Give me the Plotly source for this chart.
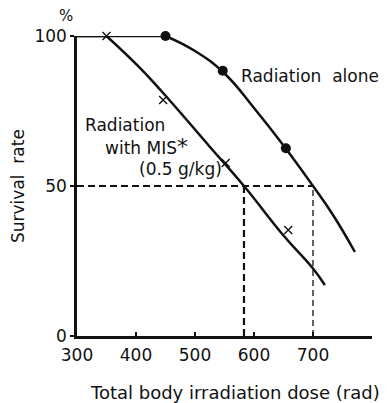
import plotly.graph_objects as go

# ---- data ----
# Radiation alone: measured points
alone_x = [450, 547, 654]
alone_y = [100, 88.4, 62.6]
# Radiation alone: drawn curve
alone_curve_x = [450, 500, 550, 600, 650, 700, 735, 771]
alone_curve_y = [100, 95, 87.5, 76, 63.5, 50, 40, 28]
alone_flat_x = [300, 450]
alone_flat_y = [100, 100]

# Radiation with MIS: measured points
mis_x = [350, 446, 552, 658]
mis_y = [100, 78.7, 57.7, 35.3]
# Radiation with MIS: drawn curve
mis_curve_x = [350, 405, 446, 525, 583, 650, 700, 720]
mis_curve_y = [100, 89.7, 81, 63.1, 50, 33.5, 22.5, 17]
mis_flat_x = [300, 350]
mis_flat_y = [100, 100]

# 50 % survival doses
ld50_x = [583, 700]
ld50_level = 50

x_ticks = [300, 400, 500, 600, 700]
y_ticks = [0, 50, 100]

FONT = "DejaVu Sans"
BLACK = "#111111"

fig = go.Figure()

# dashed guide lines
fig.add_trace(go.Scatter(x=[300, max(ld50_x)], y=[ld50_level, ld50_level], mode="lines",
                         line=dict(color=BLACK, width=1.8, dash="7px,4px"),
                         hoverinfo="skip", showlegend=False))
fig.add_trace(go.Scatter(x=[ld50_x[0], ld50_x[0]], y=[0, ld50_level], mode="lines",
                         line=dict(color=BLACK, width=2.2, dash="7px,4px"),
                         hoverinfo="skip", showlegend=False))
fig.add_trace(go.Scatter(x=[ld50_x[1], ld50_x[1]], y=[0, ld50_level], mode="lines",
                         line=dict(color=BLACK, width=1.3, dash="6px,4px"),
                         hoverinfo="skip", showlegend=False))

# curves
for cx, cy, shape in [(alone_flat_x, alone_flat_y, "linear"),
                      (alone_curve_x, alone_curve_y, "spline"),
                      (mis_flat_x, mis_flat_y, "linear"),
                      (mis_curve_x, mis_curve_y, "spline")]:
    fig.add_trace(go.Scatter(x=cx, y=cy, mode="lines",
                             line=dict(color=BLACK, width=2.5, shape=shape, smoothing=1.3),
                             cliponaxis=False, showlegend=False))

# markers
fig.add_trace(go.Scatter(x=alone_x, y=alone_y, mode="markers",
                         marker=dict(symbol="circle", size=10, color=BLACK),
                         cliponaxis=False, name="Radiation alone", showlegend=False))
fig.add_trace(go.Scatter(x=mis_x, y=mis_y, mode="markers",
                         marker=dict(symbol="x-thin", size=8, color=BLACK,
                                     line=dict(color=BLACK, width=1.4)),
                         cliponaxis=False, name="Radiation with MIS", showlegend=False))

tf = dict(family=FONT, size=17, color=BLACK)
annotations = [
    dict(x=575, y=86.7, xref="x", yref="y", text="Radiation  alone", showarrow=False,
         xanchor="left", yanchor="middle", font=tf),
    dict(x=381, y=70.3, xref="x", yref="y", text="Radiation", showarrow=False,
         xanchor="center", yanchor="middle", font=tf),
    dict(x=417, y=63.3, xref="x", yref="y", text="with MIS<span style='font-size:22px'>*</span>",
         showarrow=False, xanchor="center", yanchor="middle", font=tf),
    dict(x=475, y=55.7, xref="x", yref="y", text="(0.5 g/kg)", showarrow=False,
         xanchor="center", yanchor="middle", font=tf),
    dict(x=-0.037, y=1.067, xref="paper", yref="paper", text="%", showarrow=False,
         xanchor="center", yanchor="middle", font=dict(family=FONT, size=15, color=BLACK)),
    dict(x=-0.2, y=0.5, xref="paper", yref="paper", text="Survival  rate", showarrow=False,
         textangle=-90, xanchor="center", yanchor="middle", font=tf),
    dict(x=568, y=-0.187, xref="x", yref="paper", text="Total body irradiation dose (rad)",
         showarrow=False, xanchor="center", yanchor="middle",
         font=dict(family=FONT, size=18, color=BLACK)),
]

# the page adds an 8px body margin, so the figure is sized to fit the window
fig.update_layout(
    width=382, height=395,
    margin=dict(l=69, r=18, t=28, b=67),
    paper_bgcolor="white", plot_bgcolor="white",
    annotations=annotations,
    showlegend=False,
)
fig.update_xaxes(range=[300, 800], tickvals=x_ticks, ticktext=[str(v) for v in x_ticks],
                 showgrid=False, zeroline=False, showline=True, linecolor=BLACK, linewidth=2.5,
                 ticks="inside", ticklen=4, tickwidth=2, tickcolor=BLACK,
                 ticklabelstandoff=2, tickfont=tf)
fig.update_yaxes(range=[0, 100], tickvals=y_ticks, ticktext=[str(v) for v in y_ticks],
                 showgrid=False, zeroline=False, showline=True, linecolor=BLACK, linewidth=2.5,
                 ticks="outside", ticklen=4, tickwidth=2, tickcolor=BLACK,
                 ticklabelstandoff=0, tickfont=tf)

fig.write_html("out.html")
